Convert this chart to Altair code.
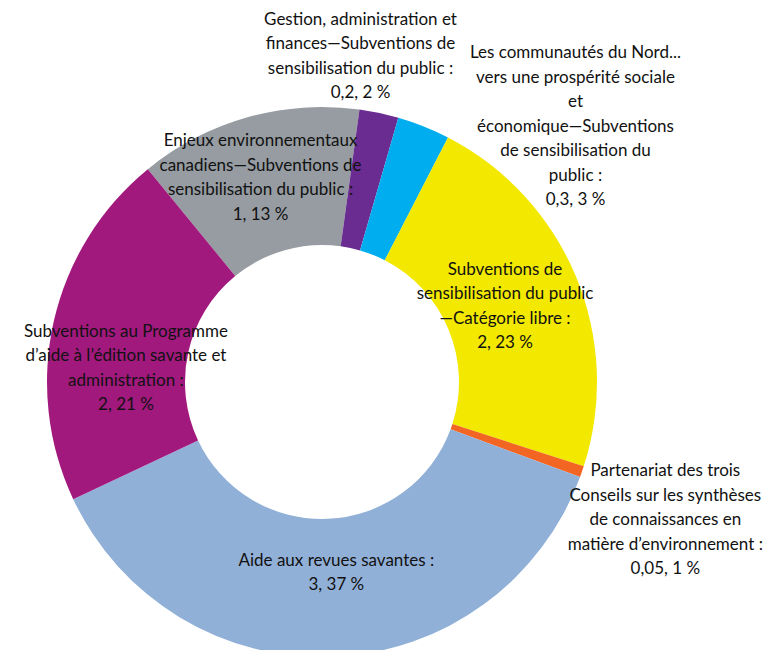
import math
import altair as alt
import pandas as pd

# Slices in clockwise order, starting with the grey one
categories = [
    "Enjeux environnementaux\ncanadiens—Subventions de\nsensibilisation du public",
    "Gestion, administration et\nfinances—Subventions de\nsensibilisation du public",
    "Les communautés du Nord...\nvers une prospérité sociale\net\néconomique—Subventions\nde sensibilisation du\npublic",
    "Subventions de\nsensibilisation du public\n—Catégorie libre",
    "Partenariat des trois\nConseils sur les synthèses\nde connaissances en\nmatière d’environnement",
    "Aide aux revues savantes",
    "Subventions au Programme\nd’aide à l’édition savante et\nadministration",
]
value_labels = ["1", "0,2", "0,3", "2", "0,05", "3", "2"]
pct_labels = ["13", "2", "3", "23", "1", "37", "21"]
shares = [13.1, 2.3, 3.1, 22.4, 0.65, 37.4, 21.1]
colors = ["#969ca1", "#6a2c90", "#00aeef", "#f3e800", "#f26522", "#91b0d7", "#a2197e"]

keys = [f"s{i}" for i in range(len(categories))]
labels = [f"{c} :\n{v}, {p} %" for c, v, p in zip(categories, value_labels, pct_labels)]
df = pd.DataFrame({
    "key": keys,
    "idx": list(range(len(categories))),
    "share": shares,
    "label": labels,
})

start = math.radians(320.7)
theta = alt.Theta("share:Q", stack=True, scale=alt.Scale(range=[start, start + 2 * math.pi]))
cx, cy = 314, 374
line_h = 24.5

base = alt.Chart(df)

arcs = base.mark_arc(outerRadius=275, innerRadius=137).encode(
    theta=theta,
    color=alt.Color("key:N", scale=alt.Scale(domain=keys, range=colors), legend=None),
    order=alt.Order("idx:Q"),
    x=alt.value(cx),
    y=alt.value(cy),
)

# (radius, dx, dy) for each slice's label block centre
label_style = [
    (212, -4, 0),
    (335, -31, 2),
    (280, 150, 5),
    (198, 0, 0),
    (360, 3, 21),
    (191, 6, 0),
    (201, 0, 31),
]

layers = [arcs]
for k, lab, (r, dx, dy) in zip(keys, labels, label_style):
    n_lines = lab.count("\n") + 1
    t = base.transform_calculate(
        txt=f"datum.key == '{k}' ? datum.label : ''"
    ).mark_text(
        radius=r, dx=dx, dy=dy - (n_lines - 1) * line_h / 2,
        font="Lato", fontSize=17, lineHeight=line_h,
        lineBreak="\n", align="center", baseline="middle", color="#111111",
    ).encode(
        theta=theta,
        detail="key:N",
        order=alt.Order("idx:Q"),
        text="txt:N",
        x=alt.value(cx),
        y=alt.value(cy),
    )
    layers.append(t)

chart = alt.layer(*layers).properties(
    width=761, height=642, padding=0, autosize="none", background="white"
).configure_view(stroke=None)

chart.save("out.html", embed_options={"renderer": "svg", "actions": False})
